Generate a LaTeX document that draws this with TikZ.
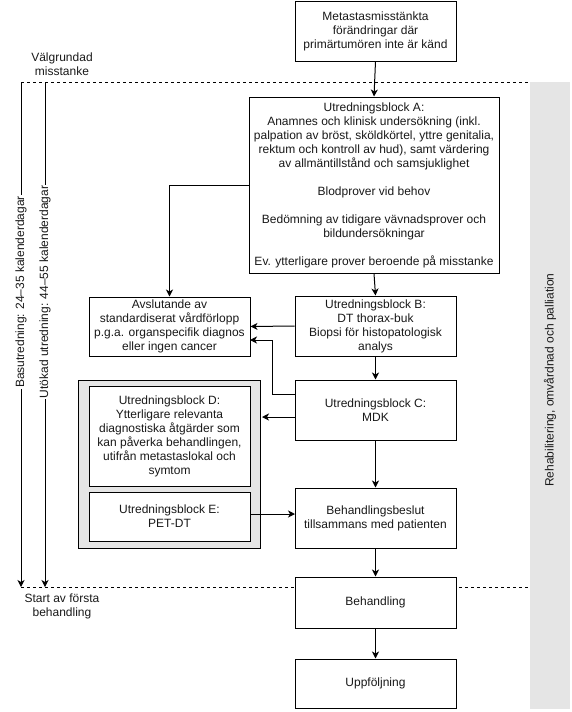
\documentclass[tikz,border=0pt]{standalone}
\usepackage{fontspec}
\setmainfont{Liberation Sans}
\usetikzlibrary{arrows.meta}
\begin{document}
\begin{tikzpicture}[x=1pt,y=-1pt,
  every node/.style={font=\fontsize{12}{14}\selectfont, text=black!90},
  box/.style={draw, line width=1pt, fill=white, align=center, inner sep=2pt},
  conn/.style={line width=1pt, -{Stealth[length=7pt,width=7pt,inset=2pt]}},
  plain/.style={line width=1pt},
  sep/.style={line width=1pt, dash pattern=on 3pt off 3pt},
  tlabel/.style={rotate=90, fill=white, inner sep=1pt}]
\useasboundingbox (0,0) rectangle (571,712);
% right strip
\fill[gray!20] (530,82) rectangle (570,709);
\node[rotate=90] (rehab) at (550,380) {Rehabilitering, omvårdnad och palliation};
% dashed separators
\coordinate (dl1) at (21,82);
\coordinate (dr1) at (530,82);
\coordinate (dl2) at (21,587);
\coordinate (dr2) at (530,587);
\draw[sep] (dl1) -- (dr1);
\draw[sep] (dl2) -- (dr2);
\node[align=center] (valg) at (62,64) {Välgrundad\\misstanke};
\node[align=center] (start) at (62,606) {Start av första\\behandling};
% time lines
\coordinate (t1s) at (21,82);
\coordinate (t1e) at (21,587);
\coordinate (t2s) at (45,82);
\coordinate (t2e) at (45,587);
\draw[conn] (t1s) -- (t1e);
\draw[conn] (t2s) -- (t2e);
\node[tlabel] (bas) at (21,292) {Basutredning: 24–35 kalenderdagar};
\node[tlabel] (utok) at (45,292) {Utökad utredning: 44–55 kalenderdagar};
% gray group
\draw[line width=1pt, fill=gray!20] (78,380) rectangle (260,548);
\coordinate (grpE) at (262,417);
% boxes
\node[box, minimum width=161, minimum height=60] (m) at (375.5,31) {Metastasmisstänkta\\förändringar där\\primärtumören inte är känd};
\node[box, minimum width=250, minimum height=176] (a) at (374,185) {Utredningsblock A:\\Anamnes och klinisk undersökning (inkl.\\palpation av bröst, sköldkörtel, yttre genitalia,\\rektum och kontroll av hud), samt värdering\\av allmäntillstånd och samsjuklighet\\[14pt]Blodprover vid behov\\[14pt]Bedömning av tidigare vävnadsprover och\\bildundersökningar\\[14pt]Ev. ytterligare prover beroende på misstanke};
\node[box, minimum width=161, minimum height=59] (av) at (169.5,326.5) {Avslutande av\\standardiserat vårdförlopp\\p.g.a. organspecifik diagnos\\eller ingen cancer};
\node[box, minimum width=161, minimum height=60] (b) at (375.5,326) {Utredningsblock B:\\DT thorax-buk\\Biopsi för histopatologisk\\analys};
\node[box, minimum width=161, minimum height=60] (c) at (375.5,410) {Utredningsblock C:\\MDK};
\node[box, minimum width=161, minimum height=100] (d) at (169.5,436) {Utredningsblock D:\\Ytterligare relevanta\\diagnostiska åtgärder som\\kan påverka behandlingen,\\utifrån metastaslokal och\\symtom};
\node[box, minimum width=161, minimum height=49] (e) at (169.5,516.5) {Utredningsblock E:\\PET-DT};
\node[box, minimum width=161, minimum height=60] (bes) at (375.5,518) {Behandlingsbeslut\\tillsammans med patienten};
\node[box, minimum width=161, minimum height=51] (beh) at (375.5,602.5) {Behandling};
\node[box, minimum width=161, minimum height=49] (upp) at (375.5,683.5) {Uppföljning};
% connectors
\draw[conn] (m.south) -- (a.north);
\draw[conn] (a.west) -| (av.north);
\draw[conn] (a.south) -- (b.north);
\draw[conn] (b.west) -- (av.east);
\draw[conn] (b.south) -- (c.north);
\coordinate (cw1) at (295,394);
\coordinate (cbend1) at (272,394);
\coordinate (cbend2) at (272,340);
\coordinate (ave2) at (250,340);
\draw[conn] (cw1) -- (cbend1) -- (cbend2) -- (ave2);
\coordinate (cw2) at (295,417);
\draw[conn] (cw2) -- (grpE);
\draw[conn] (c.south) -- (bes.north);
\coordinate (ee) at (250,514);
\coordinate (besw) at (295,514);
\draw[conn] (ee) -- (besw);
\draw[conn] (bes.south) -- (beh.north);
\draw[conn] (beh.south) -- (upp.north);
\end{tikzpicture}
\end{document}
